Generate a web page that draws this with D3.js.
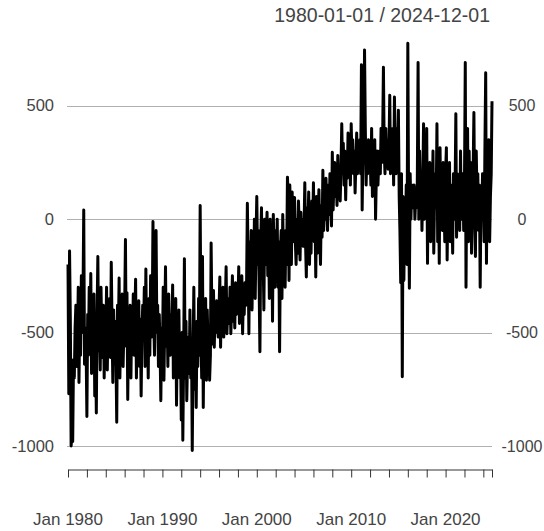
<!DOCTYPE html>
<html>
<head>
<meta charset="utf-8">
<script src="https://cdnjs.cloudflare.com/ajax/libs/d3/7.8.5/d3.min.js"></script>
<style>
  body { margin: 0; background: #fff; }
  text { font-family: 'Liberation Sans', Arial, sans-serif; fill: #444; }
</style>
</head>
<body>
<div id="chart"></div>
<script>
'use strict';

// monthly values, one row per year
var values1980s = [
  -200, -770, -140, -450, -1000, -950, -980, -620, -700, -480, -380, -650,
  -550, -300, -720, -420, -600, -250, -500, -380, 40, -640, -480, -560,
  -870, -420, -600, -300, -520, -240, -680, -450, -560, -330, -780, -500,
  -855, -400, -165, -580, -450, -665, -300, -520, -610, -380, -700, -450,
  -560, -300, -665, -420, -520, -350, -610, -190, -480, -720, -400, -560,
  -450, -630, -895, -380, -520, -260, -700, -440, -580, -330, -650, -500,
  -400, -90, -560, -325, -795, -450, -620, -380, -700, -420, -540, -330,
  -600, -420, -265, -700, -480, -550, -360, -650, -440, -780, -500, -380,
  -520, -300, -650, -220, -580, -420, -700, -350, -600, -250, -520, -460,
  -10, -450, -600, -300, -50, -500, -380, -650, -420, -560, -800, -480
];
var values1990s = [
  -600, -300, -710, -450, -210, -560, -400, -650, -330, -500, -600, -420,
  -520, -290, -700, -450, -600, -350, -820, -500, -650, -400, -700, -550,
  -885, -500, -975, -620, -175, -700, -450, -800, -600, -520, -680, -400,
  -700, -550, -1020, -600, -300, -750, -500, -830, -450, -650, -350, -600,
  60, -500, -700, -165, -830, -450, -600, -350, -710, -400, -550, -480,
  -710, -600, -105, -450, -550, -315, -565, -400, -500, -360, -450, -520,
  -400, -255, -565, -350, -480, -300, -520, -420, -380, -210, -505, -400,
  -350, -460, -300, -505, -400, -250, -450, -330, -480, -280, -420, -360,
  -380, -210, -460, -300, -400, -250, -505, -330, -420, -280, -380, -300,
  70, -200, -505, -100, -300, -50, -400, -150, -250, 0, -350, -100
];
var values2000s = [
  100, -200, -50, -300, -585, -100, 50, -250, -150, -400, 0, -200,
  -100, 30, -250, -50, -350, 0, -200, -100, -450, 20, -150, -300,
  -50, -250, 0, -300, -100, -585, -150, -50, -350, 20, -200, -100,
  -300, -50, -200, 185, 100, -270, 150, 0, -200, 120, -100, 50,
  95, -100, -200, 0, -150, 80, -50, -180, 30, -100, 0, -120,
  -50, 160, -100, -255, 50, -50, 120, -200, 0, -150, 80, -50,
  160, -100, 50, -255, 100, -150, 0, 130, -50, -200, 60, -80,
  215, -50, 100, 0, 180, 50, -50, 150, 20, 200, 80, -30,
  295, 40, 150, 250, 100, 200, 60, 280, 120, 180, 80, 220,
  420, 200, 335, 150, 300, 85, 250, 180, 380, 200, 300, 150
];
var values2010s = [
  420, 250, 350, 200, 300, 115, 250, 380, 200, 320, 250, 350,
  200, 680, 40, 300, 250, 745, 400, 150, 300, 200, 350, 250,
  300, 150, 400, 100, 250, 200, 350, 0, 200, 300, 150, 250,
  300, 200, 400, 250, 350, 670, 300, 200, 400, 250, 350, 220,
  300, 546, 200, 350, 250, 400, 150, 538, 300, 200, 400, 250,
  480, 100, -50, -280, 200, -695, 100, -270, 50, -100, 150, -200,
  775, 50, -305, 200, 0, 150, 100, 50, 150, 0, 100, 50,
  150, 690, 0, 300, 100, 200, -50, 150, 420, 0, 200, 100,
  400, -195, 200, 0, 250, -100, 150, 50, 300, -150, 100, 200,
  50, 420, -100, 200, -195, 315, 0, 150, -50, 250, 100, -100
];
var values2020s = [
  200, 315, -180, 100, 0, 250, -100, 150, 50, -150, 200, 0,
  100, 465, -80, 200, 50, 150, -50, 300, 0, 100, 200, -50,
  150, 690, -300, 200, 400, -100, 300, 0, 250, -150, 100, 200,
  470, 0, -165, 300, 100, 200, -50, 150, -300, 100, 0, 200,
  100, -100, 300, 645, -195, 200, 0, 350, -100, 100, 200, 520
];

var titleText = '1980-01-01 / 2024-12-01';
var yTicks = [500, 0, -500, -1000];
var xLabelYears = [1980, 1990, 2000, 2010, 2020];

var width = 544, height = 531;

var values = values1980s.concat(values1990s, values2000s, values2010s, values2020s);
var start = new Date(1980, 0, 1);
var data = values.map(function(v, i){
  return { date: d3.timeMonth.offset(start, i), value: v };
});

var x = d3.scaleTime()
  .domain([start, data[data.length - 1].date])
  .range([68, 492]);

var y = d3.scaleLinear()
  .domain([-1000, 500])
  .range([446, 105.7]);

var svg = d3.select('#chart')
  .append('svg')
  .attr('width', width)
  .attr('height', height);

svg.append('rect')
  .attr('width', width)
  .attr('height', height)
  .attr('fill', '#fff');

// title, top right
svg.append('text')
  .attr('x', 490)
  .attr('y', 21.5)
  .attr('text-anchor', 'end')
  .style('font-size', '19.5px')
  .text(titleText);

// horizontal grid
svg.selectAll('.grid')
  .data(yTicks)
  .enter()
  .append('line')
    .classed('grid', 1)
    .attr('x1', 67)
    .attr('x2', 492)
    .attr('y1', function(d){ return Math.round(y(d)) + 0.5; })
    .attr('y2', function(d){ return Math.round(y(d)) + 0.5; })
    .attr('stroke', '#b0b0b0')
    .attr('stroke-width', 1);

// y labels on both sides
svg.selectAll('.ylab-left')
  .data(yTicks)
  .enter()
  .append('text')
    .classed('ylab-left', 1)
    .attr('x', 54)
    .attr('y', function(d){ return y(d); })
    .attr('dy', '0.35em')
    .attr('text-anchor', 'end')
    .style('font-size', '16.5px')
    .text(function(d){ return d; });

// right side labels sit centred; nudged in so -1000 stays on the page
svg.selectAll('.ylab-right')
  .data(yTicks)
  .enter()
  .append('text')
    .classed('ylab-right', 1)
    .attr('x', 522)
    .attr('y', function(d){ return y(d); })
    .attr('dy', '0.35em')
    .attr('text-anchor', 'middle')
    .style('font-size', '16px')
    .text(function(d){ return d; });

// bottom axis: ticks every 2 years plus the last month
var tickDates = d3.timeYear.every(2).range(start, new Date(2025, 0, 1));
tickDates.push(data[data.length - 1].date);

var xAxis = d3.axisBottom(x)
  .tickValues(tickDates)
  .tickSize(8)
  .tickSizeOuter(0)
  .tickFormat('');

var ax = svg.append('g')
  .attr('transform', 'translate(0,469.5)')
  .call(xAxis);
ax.select('.domain').attr('stroke', '#333');
ax.selectAll('.tick line').attr('stroke', '#333');

svg.selectAll('.xlab')
  .data(xLabelYears)
  .enter()
  .append('text')
    .classed('xlab', 1)
    .attr('x', function(d){ return x(new Date(d, 0, 1)); })
    .attr('y', 525)
    .attr('text-anchor', 'middle')
    .style('font-size', '17px')
    .text(function(d){ return 'Jan ' + d; });

// the series
var line = d3.line()
  .x(function(d){ return x(d.date); })
  .y(function(d){ return y(d.value); });

svg.append('path')
  .datum(data)
  .attr('d', line)
  .attr('fill', 'none')
  .attr('stroke', '#000')
  .attr('stroke-width', 3)
  .attr('stroke-linejoin', 'round');
</script>
</body>
</html>
